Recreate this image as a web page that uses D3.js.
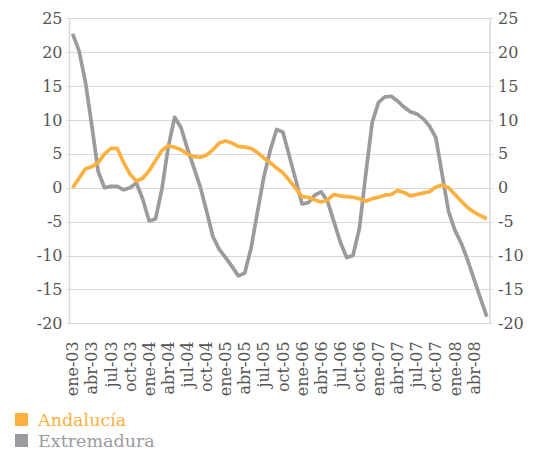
<!DOCTYPE html>
<html>
<head>
<meta charset="utf-8">
<script src="https://cdn.jsdelivr.net/npm/d3@7"></script>
<style>
  html, body { margin: 0; padding: 0; background: #fff; }
  svg { display: block; font-family: "DejaVu Serif", serif; }
</style>
</head>
<body>
<svg id="chart" width="539" height="450"></svg>
<script>
// months ene-03 .. jun-08
const months = [
  "ene-03","feb-03","mar-03","abr-03","may-03","jun-03","jul-03","ago-03","sep-03","oct-03","nov-03","dic-03",
  "ene-04","feb-04","mar-04","abr-04","may-04","jun-04","jul-04","ago-04","sep-04","oct-04","nov-04","dic-04",
  "ene-05","feb-05","mar-05","abr-05","may-05","jun-05","jul-05","ago-05","sep-05","oct-05","nov-05","dic-05",
  "ene-06","feb-06","mar-06","abr-06","may-06","jun-06","jul-06","ago-06","sep-06","oct-06","nov-06","dic-06",
  "ene-07","feb-07","mar-07","abr-07","may-07","jun-07","jul-07","ago-07","sep-07","oct-07","nov-07","dic-07",
  "ene-08","feb-08","mar-08","abr-08","may-08","jun-08"
];

const andalucia = [
  0.0, 1.4, 2.8, 3.1, 3.7, 5.0, 5.8, 5.8, 3.7, 2.0, 1.0, 1.4,
  2.5, 4.0, 5.5, 6.2, 6.0, 5.6, 5.0, 4.6, 4.5, 4.8, 5.6, 6.6,
  6.9, 6.6, 6.1, 6.0, 5.8, 5.2, 4.4, 3.7, 2.9, 2.2, 1.1, -0.1,
  -1.3, -1.4, -1.8, -2.1, -1.8, -1.0, -1.2, -1.3, -1.4, -1.6, -2.0, -1.6,
  -1.4, -1.1, -1.0, -0.4, -0.7, -1.2, -1.0, -0.8, -0.6, 0.1, 0.4, 0.0,
  -1.0, -2.0, -2.9, -3.6, -4.1, -4.6
];

const extremadura = [
  22.7, 20.2, 15.6, 9.2, 2.4, 0.0, 0.2, 0.2, -0.3, 0.0, 0.7, -1.7,
  -4.9, -4.6, -0.2, 6.0, 10.4, 8.9, 5.8, 3.0, 0.2, -3.4, -7.2, -9.1,
  -10.3, -11.6, -13.0, -12.6, -8.9, -3.6, 1.6, 5.5, 8.6, 8.2, 4.7, 1.2,
  -2.4, -2.2, -1.1, -0.6, -2.0, -5.0, -8.0, -10.3, -10.0, -6.0, 2.0, 9.6,
  12.6, 13.4, 13.5, 12.8, 11.9, 11.2, 10.9, 10.2, 9.1, 7.4, 1.9, -3.5,
  -6.3, -8.2, -10.7, -13.5, -16.3, -19.0
];

const yTicks = [-20, -15, -10, -5, 0, 5, 10, 15, 20, 25];

const series = [
  { name: "Andalucía", values: andalucia, color: "#FBB040" },
  { name: "Extremadura", values: extremadura, color: "#9B9B9F" }
];

const svg = d3.select("#chart");
const plotL = 69.5, plotR = 490, plotT = 18.3, plotB = 323.3;

const x = d3.scaleBand().domain(months).range([plotL, plotR]).padding(0);
const y = d3.scaleLinear().domain([-20, 25]).range([plotB, plotT]);

// gridlines
svg.append("g")
  .selectAll("line")
  .data(yTicks)
  .join("line")
  .attr("x1", plotL - 3)
  .attr("x2", plotR + 3)
  .attr("y1", d => Math.round(y(d)) + 0.5)
  .attr("y2", d => Math.round(y(d)) + 0.5)
  .attr("stroke", "#D9D9D9")
  .attr("stroke-width", 1.2);

// axis lines
svg.append("line")
  .attr("x1", plotL).attr("x2", plotL)
  .attr("y1", plotT).attr("y2", plotB + 0.5)
  .attr("stroke", "#D9D9D9").attr("stroke-width", 1.5);
svg.append("line")
  .attr("x1", plotR).attr("x2", plotR)
  .attr("y1", plotT).attr("y2", plotB + 0.5)
  .attr("stroke", "#D9D9D9").attr("stroke-width", 1.5);

// y labels, both sides (plain hyphen for negatives)
const fmt = d => String(d);
const yLeft = d3.axisLeft(y).tickValues(yTicks).tickFormat(fmt).tickSize(0).tickPadding(7);
const yRight = d3.axisRight(y).tickValues(yTicks).tickFormat(fmt).tickSize(0).tickPadding(8);

const gl = svg.append("g").attr("transform", `translate(${plotL},0)`).call(yLeft);
const gr = svg.append("g").attr("transform", `translate(${plotR},0)`).call(yRight);
[gl, gr].forEach(g => {
  g.select(".domain").remove();
  g.selectAll("text")
    .attr("font-family", "DejaVu Serif, serif")
    .attr("font-size", "16px")
    .attr("fill", "#555555");
});

// x labels (every third month), rotated
const xAxis = d3.axisBottom(x)
  .tickValues(months.filter((m, i) => i % 3 === 0))
  .tickSize(0);

const gx = svg.append("g").attr("transform", `translate(0,${plotB})`).call(xAxis);
gx.select(".domain").remove();
gx.selectAll("text")
  .attr("font-family", "DejaVu Serif, serif")
  .attr("font-size", "16px")
  .attr("fill", "#555555")
  .attr("text-anchor", "end")
  .attr("dy", "0.35em")
  .attr("x", -18)
  .attr("y", 0)
  .attr("transform", "rotate(-90)");

// lines
const line = d3.line()
  .x((d, i) => x(months[i]) + x.bandwidth() / 2)
  .y(d => y(d));

svg.append("g")
  .selectAll("path")
  .data(series.slice().reverse())
  .join("path")
  .attr("d", d => line(d.values))
  .attr("fill", "none")
  .attr("stroke", d => d.color)
  .attr("stroke-width", 3.7)
  .attr("stroke-linejoin", "round");

// legend
const legend = svg.append("g")
  .selectAll("g")
  .data(series)
  .join("g")
  .attr("transform", (d, i) => `translate(15,${413 + i * 21})`);

legend.append("rect")
  .attr("width", 13)
  .attr("height", 13)
  .attr("fill", d => d.color);

legend.append("text")
  .attr("x", 23)
  .attr("y", 13)
  .attr("font-family", "DejaVu Serif, serif")
  .attr("font-size", "17.5px")
  .attr("fill", d => d.color)
  .text(d => d.name);
</script>
</body>
</html>
